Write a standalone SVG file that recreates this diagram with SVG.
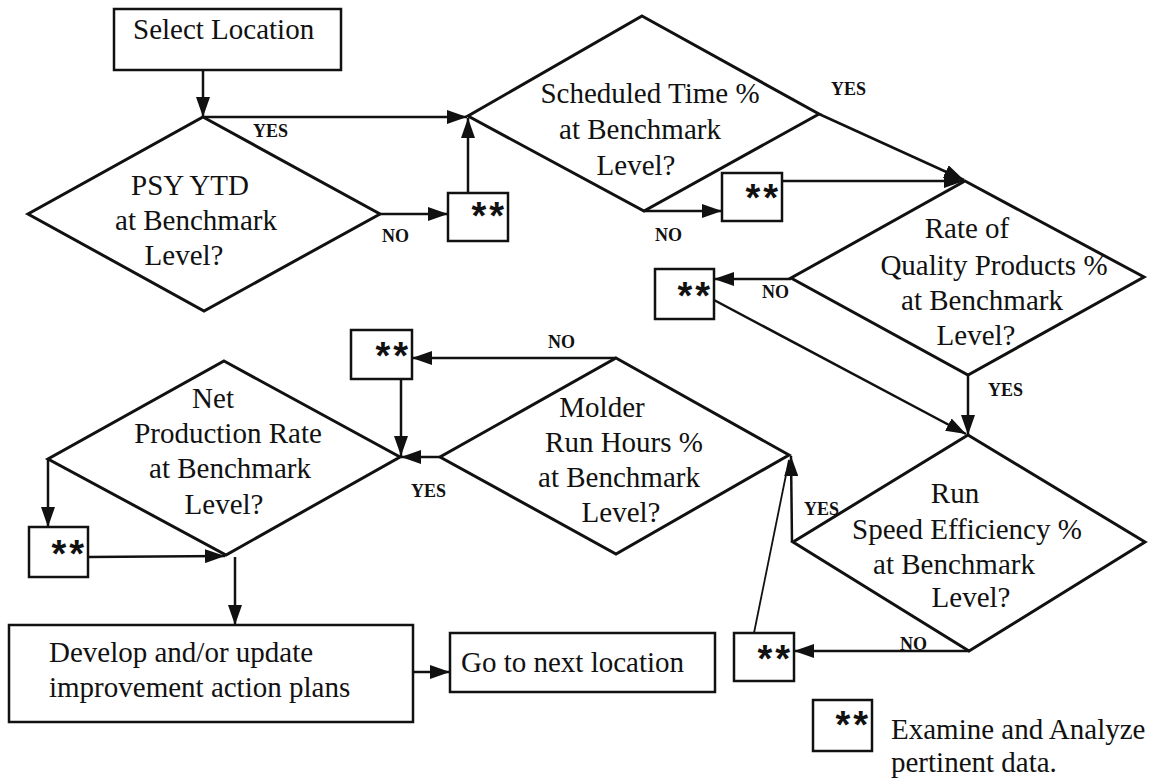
<svg xmlns="http://www.w3.org/2000/svg" width="1152" height="779" viewBox="0 0 1152 779">
  <style>
    .shape { fill: #fff; stroke: #111; stroke-width: 3; stroke-linejoin: miter; }
    .box { fill: #fff; stroke: #111; stroke-width: 2.5; }
    .txt { font-family: "Liberation Serif", "Times New Roman", serif; font-size: 29px; fill: #111; }
    .mid { text-anchor: middle; }
    .lbl { font-family: "Liberation Serif", "Times New Roman", serif; font-size: 18px; font-weight: bold; fill: #111; }
    .star { font-family: "Liberation Sans", Arial, sans-serif; font-size: 38px; font-weight: bold; fill: #111; text-anchor: end; }
    .conn { fill: none; stroke: #111; stroke-width: 2.5; }
    .thin { fill: none; stroke: #111; stroke-width: 1.8; }
  </style>
  <defs>
    <marker id="arr" viewBox="0 0 20 14" markerWidth="20" markerHeight="14" refX="20" refY="7" orient="auto" markerUnits="userSpaceOnUse">
      <path d="M0,0 L20,7 L0,14 z" fill="#111"/>
    </marker>
  </defs>
  <rect width="1152" height="779" fill="#fff"/>

  <!-- connectors -->
  <g id="connectors">
    <line class="conn" x1="203" y1="70" x2="203" y2="117" marker-end="url(#arr)"/>
    <line class="conn" x1="203" y1="117" x2="467" y2="117" marker-end="url(#arr)"/>
    <line class="conn" x1="380" y1="214" x2="448" y2="214" marker-end="url(#arr)"/>
    <line class="conn" x1="468" y1="193" x2="468" y2="118" marker-end="url(#arr)"/>
    <line class="conn" x1="819" y1="114" x2="964" y2="180" marker-end="url(#arr)"/>
    <line class="conn" x1="644" y1="211" x2="722" y2="211" marker-end="url(#arr)"/>
    <line class="conn" x1="782" y1="181" x2="964" y2="181" marker-end="url(#arr)"/>
    <line class="conn" x1="791" y1="279" x2="714" y2="279" marker-end="url(#arr)"/>
    <line class="conn" x1="714" y1="300" x2="966" y2="434" marker-end="url(#arr)"/>
    <line class="conn" x1="968" y1="375" x2="968" y2="435" marker-end="url(#arr)"/>
    <line class="conn" x1="969" y1="651" x2="794" y2="651" marker-end="url(#arr)"/>
    <line class="thin" x1="754" y1="633" x2="789" y2="460"/>
    <line class="conn" x1="792" y1="542" x2="791" y2="456" marker-end="url(#arr)"/>
    <line class="conn" x1="616" y1="358" x2="412" y2="358" marker-end="url(#arr)"/>
    <line class="conn" x1="401" y1="379" x2="401" y2="456" marker-end="url(#arr)"/>
    <line class="conn" x1="440" y1="457" x2="401" y2="457" marker-end="url(#arr)"/>
    <line class="conn" x1="48" y1="459" x2="48" y2="527" marker-end="url(#arr)"/>
    <line class="conn" x1="88" y1="557" x2="225" y2="556" marker-end="url(#arr)"/>
    <line class="conn" x1="235" y1="557" x2="235" y2="625" marker-end="url(#arr)"/>
    <line class="conn" x1="413" y1="672" x2="450" y2="672" marker-end="url(#arr)"/>
  </g>

  <!-- branch labels -->
  <g id="labels" class="lbl">
    <text x="253" y="137">YES</text>
    <text x="382" y="242">NO</text>
    <text x="831" y="95">YES</text>
    <text x="655" y="241">NO</text>
    <text x="762" y="298">NO</text>
    <text x="988" y="396">YES</text>
    <text x="548" y="348">NO</text>
    <text x="411" y="497">YES</text>
    <text x="804" y="515">YES</text>
    <text x="900" y="650">NO</text>
  </g>

  <g id="select-location">
    <rect class="box" x="114" y="9" width="227" height="61"/>
    <text class="txt" x="133" y="39">Select Location</text>
  </g>

  <g id="psy-ytd">
    <polygon class="shape" points="203,117 380,214 204,311 28,214"/>
    <text class="txt mid" x="190" y="195">PSY YTD</text>
    <text class="txt mid" x="196" y="230">at Benchmark</text>
    <text class="txt mid" x="184" y="265">Level?</text>
  </g>

  <g id="examine-1">
    <rect class="box" x="448" y="193" width="60" height="48"/>
    <text class="star" x="504" y="229">*<tspan dx="3">*</tspan></text>
  </g>

  <g id="scheduled-time">
    <polygon class="shape" points="642,16 819,114 644,211 468,116"/>
    <text class="txt mid" x="650" y="103">Scheduled Time %</text>
    <text class="txt mid" x="640" y="139">at Benchmark</text>
    <text class="txt mid" x="636" y="175">Level?</text>
  </g>

  <g id="examine-2">
    <rect class="box" x="722" y="173" width="60" height="48"/>
    <text class="star" x="778" y="211">*<tspan dx="3">*</tspan></text>
  </g>

  <g id="quality-products">
    <polygon class="shape" points="965,181 1144,277 968,375 791,278"/>
    <text class="txt mid" x="967" y="238">Rate of</text>
    <text class="txt mid" x="994" y="275">Quality Products %</text>
    <text class="txt mid" x="982" y="310">at Benchmark</text>
    <text class="txt mid" x="976" y="345">Level?</text>
  </g>

  <g id="examine-3">
    <rect class="box" x="655" y="269" width="59" height="50"/>
    <text class="star" x="710" y="309">*<tspan dx="3">*</tspan></text>
  </g>

  <g id="run-speed">
    <polygon class="shape" points="968,435 1145,542 969,651 793,542"/>
    <text class="txt mid" x="955" y="503">Run</text>
    <text class="txt mid" x="967" y="539">Speed Efficiency %</text>
    <text class="txt mid" x="954" y="574">at Benchmark</text>
    <text class="txt mid" x="971" y="607">Level?</text>
  </g>

  <g id="examine-4">
    <rect class="box" x="734" y="633" width="60" height="48"/>
    <text class="star" x="790" y="672">*<tspan dx="3">*</tspan></text>
  </g>

  <g id="molder-run-hours">
    <polygon class="shape" points="616,358 789,455 616,554 440,457"/>
    <text class="txt mid" x="602" y="417">Molder</text>
    <text class="txt mid" x="624" y="452">Run Hours %</text>
    <text class="txt mid" x="619" y="487">at Benchmark</text>
    <text class="txt mid" x="621" y="522">Level?</text>
  </g>

  <g id="examine-5">
    <rect class="box" x="351" y="330" width="61" height="49"/>
    <text class="star" x="408" y="369">*<tspan dx="3">*</tspan></text>
  </g>

  <g id="net-production">
    <polygon class="shape" points="224,361 400,457 226,555 48,459"/>
    <text class="txt mid" x="213" y="408">Net</text>
    <text class="txt mid" x="228" y="443">Production Rate</text>
    <text class="txt mid" x="230" y="478">at Benchmark</text>
    <text class="txt mid" x="224" y="514">Level?</text>
  </g>

  <g id="examine-6">
    <rect class="box" x="29" y="527" width="59" height="50"/>
    <text class="star" x="84" y="567">*<tspan dx="3">*</tspan></text>
  </g>

  <g id="action-plans">
    <rect class="box" x="9" y="625" width="404" height="97"/>
    <text class="txt" x="49" y="662">Develop and/or update</text>
    <text class="txt" x="49" y="697">improvement action plans</text>
  </g>

  <g id="next-location">
    <rect class="box" x="450" y="633" width="265" height="59"/>
    <text class="txt" x="461" y="672">Go to next location</text>
  </g>

  <g id="legend">
    <rect class="box" x="813" y="700" width="59" height="51"/>
    <text class="star" x="868" y="738">*<tspan dx="3">*</tspan></text>
    <text class="txt" x="891" y="739">Examine and Analyze</text>
    <text class="txt" x="891" y="772">pertinent data.</text>
  </g>
</svg>
